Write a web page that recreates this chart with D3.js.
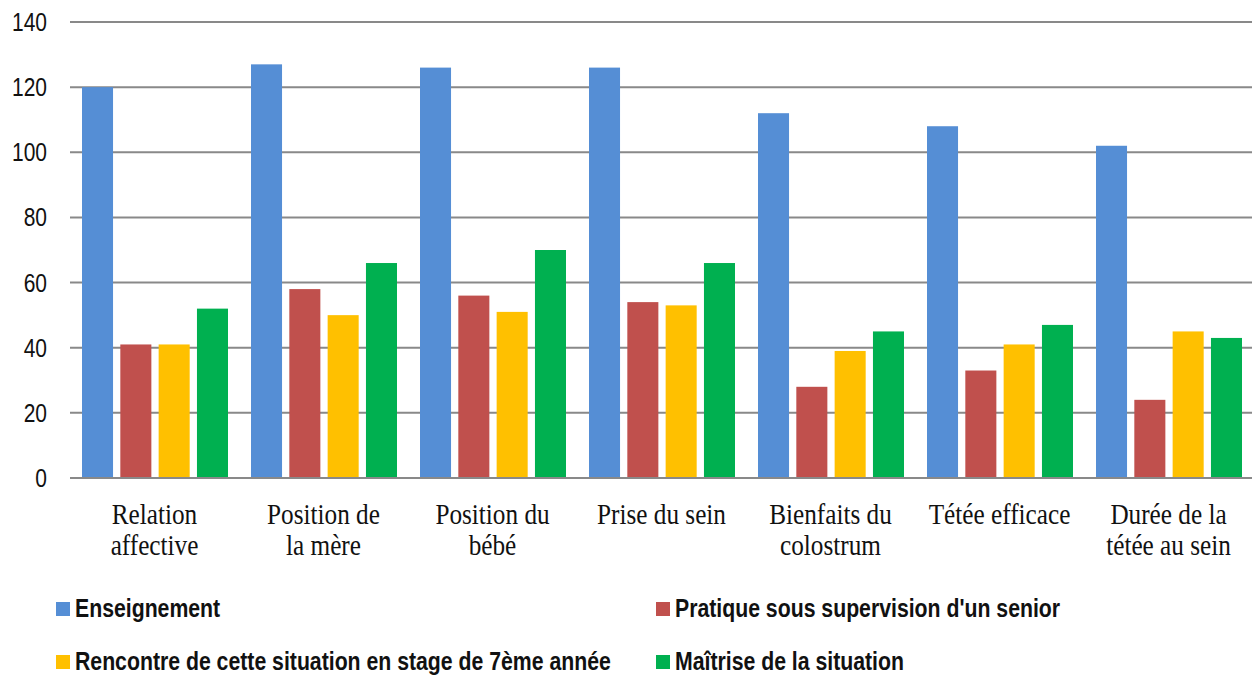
<!DOCTYPE html>
<meta charset="utf-8">
<style>
body { margin: 0; background: #fff; }
.grid line { stroke: #898989; stroke-width: 2px; }
.tick-label { font-family: "Liberation Sans", sans-serif; font-size: 25px; fill: #111; }
.cat-label { font-family: "Liberation Serif", serif; font-size: 29px; fill: #111; }
.legend text { font-family: "Liberation Sans", sans-serif; font-weight: bold; font-size: 25px; fill: #111; }
</style>
<svg width="1252" height="677"></svg>
<script src="https://d3js.org/d3.v7.min.js"></script>
<script>

var categories = [
  ["Relation", "affective"],
  ["Position de", "la mère"],
  ["Position du", "bébé"],
  ["Prise du sein"],
  ["Bienfaits du", "colostrum"],
  ["Tétée efficace"],
  ["Durée de la", "tétée au sein"]
];

var seriesNames = [
  "Enseignement",
  "Pratique sous supervision d'un senior",
  "Rencontre de cette situation en stage de 7ème année",
  "Maîtrise de la situation"
];

var enseignement = [120, 127, 126, 126, 112, 108, 102];
var pratique     = [41, 58, 56, 54, 28, 33, 24];
var rencontre    = [41, 50, 51, 53, 39, 41, 45];
var maitrise     = [52, 66, 70, 66, 45, 47, 43];

var yTicks = [0, 20, 40, 60, 80, 100, 120, 140];

var colors = ["#558ed5", "#c0504d", "#ffc000", "#00b050"];

var svg = d3.select("svg");
var squeeze = 0.84; // text in the picture is narrowed horizontally

var catKeys = categories.map(function(c) { return c.join(" "); });
var series = [enseignement, pratique, rencontre, maitrise];

var x0 = d3.scaleBand()
    .domain(catKeys)
    .range([70, 1253])
    .padding(0);

var x1 = d3.scaleBand()
    .domain(d3.range(series.length))
    .range([12, 158])
    .paddingInner(0.19)
    .paddingOuter(0);

var y = d3.scaleLinear()
    .domain([0, 140])
    .range([478, 22]);

// gridlines
svg.append("g")
    .attr("class", "grid")
  .selectAll("line")
  .data(yTicks)
  .enter().append("line")
    .attr("x1", 70)
    .attr("x2", 1252)
    .attr("y1", function(d) { return y(d); })
    .attr("y2", function(d) { return y(d); });

// y tick labels
svg.append("g")
  .selectAll("text")
  .data(yTicks)
  .enter().append("text")
    .attr("class", "tick-label")
    .attr("text-anchor", "end")
    .attr("transform", function(d) {
      return "translate(47," + (y(d) + 9) + ") scale(" + squeeze + ",1)";
    })
    .text(function(d) { return d; });

// bars
var groups = svg.append("g")
  .selectAll("g")
  .data(catKeys)
  .enter().append("g")
    .attr("transform", function(d) { return "translate(" + x0(d) + ",0)"; });

groups.selectAll("rect")
  .data(function(d, i) {
    return series.map(function(s, j) { return {s: j, v: s[i]}; });
  })
  .enter().append("rect")
    .attr("x", function(d) { return x1(d.s); })
    .attr("width", x1.bandwidth())
    .attr("y", function(d) { return y(d.v); })
    .attr("height", function(d) { return y(0) - y(d.v) - 1; })
    .attr("fill", function(d) { return colors[d.s]; });

// category labels
var cats = svg.append("g")
  .selectAll("text")
  .data(categories)
  .enter().append("text")
    .attr("class", "cat-label")
    .attr("text-anchor", "middle")
    .attr("transform", function(d, i) {
      return "translate(" + (x0(catKeys[i]) + x0.bandwidth() / 2) + ",524) scale(" + (squeeze + 0.03) + ",1)";
    });

cats.selectAll("tspan")
  .data(function(d) { return d; })
  .enter().append("tspan")
    .attr("x", 0)
    .attr("y", function(d, i) { return i * 31; })
    .text(function(d) { return d; });

// legend
var legendPos = [[56, 602], [656, 602], [56, 655], [656, 655]];

var legend = svg.append("g")
    .attr("class", "legend")
  .selectAll("g")
  .data(seriesNames)
  .enter().append("g")
    .attr("transform", function(d, i) {
      return "translate(" + legendPos[i][0] + "," + legendPos[i][1] + ")";
    });

legend.append("rect")
    .attr("width", 14)
    .attr("height", 14)
    .attr("fill", function(d, i) { return colors[i]; });

legend.append("text")
    .attr("transform", "translate(19,15) scale(0.85,1)")
    .text(function(d) { return d; });

</script>
